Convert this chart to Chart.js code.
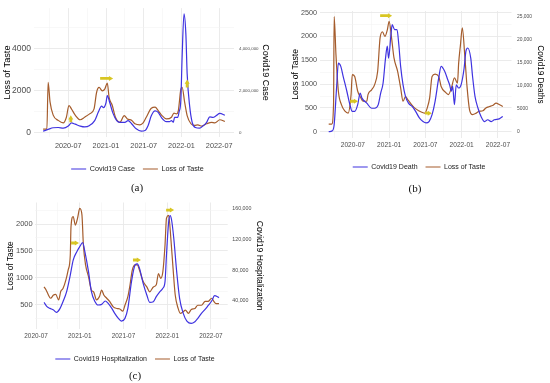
<!DOCTYPE html>
<html>
<head>
<meta charset="utf-8">
<script src="https://cdn.jsdelivr.net/npm/chart.js@4.4.1/dist/chart.umd.min.js"></script>
<style>
  body { margin: 0; width: 550px; height: 383px; background: #fff; position: relative; overflow: hidden; }
  .panel { position: absolute; }
  .tag { position: absolute; font-family: "Liberation Serif", "DejaVu Serif", serif; font-size: 11px; color: #111; transform: translate(-50%, -50%); }
</style>
</head>
<body>
<div class="panel" style="left:0;top:0;width:275px;height:183px"><canvas id="chartA"></canvas></div>
<div class="panel" style="left:275px;top:0;width:275px;height:181px"><canvas id="chartB"></canvas></div>
<div class="panel" style="left:0;top:190px;width:275px;height:183px"><canvas id="chartC"></canvas></div>
<div class="tag" style="left:137px;top:187px">(a)</div>
<div class="tag" style="left:415px;top:188px">(b)</div>
<div class="tag" style="left:135px;top:375px">(c)</div>

<script>
// x values are months since 2020-01 (6 = 2020-07)
const xTickMonths = [6, 12, 18, 24, 30];
const xTickLabels = ["2020-07", "2021-01", "2021-07", "2022-01", "2022-07"];
const xMinorMonths = [3, 9, 15, 21, 27];

// (a) cases vs loss of taste
const caseMonths = [2.0, 2.8, 3.6, 4.4, 5.2, 6.0, 6.5, 7.1, 7.9, 8.6, 9.4, 10.2, 10.8, 11.3, 11.6, 12.0, 12.2, 12.6, 13.1, 13.7, 14.2, 15.0, 15.5, 16.1, 16.8, 17.6, 18.2, 18.7, 19.2, 19.8, 20.3, 20.8, 21.6, 22.1, 22.4, 22.7, 22.9, 23.4, 23.6, 23.9, 24.1, 24.4, 24.7, 24.9, 25.3, 25.7, 26.2, 26.9, 27.4, 28.0, 28.5, 29.0, 29.5, 30.1, 30.9];
const caseCounts = [50000, 140000, 220000, 230000, 200000, 300000, 450000, 390000, 300000, 260000, 330000, 560000, 980000, 1250000, 1180000, 1410000, 1750000, 1410000, 915000, 560000, 480000, 480000, 560000, 400000, 170000, 60000, 90000, 330000, 790000, 1020000, 950000, 710000, 510000, 510000, 560000, 480000, 710000, 710000, 950000, 1570000, 3580000, 5650000, 4670000, 2800000, 1250000, 480000, 230000, 200000, 300000, 480000, 740000, 710000, 790000, 900000, 820000];
const tasteAMonths = [2.0, 2.6, 2.8, 3.1, 3.6, 4.4, 5.2, 5.7, 6.1, 6.5, 7.1, 7.9, 8.6, 9.4, 10.1, 10.5, 10.9, 11.4, 11.8, 12.2, 12.5, 13.0, 13.5, 14.2, 14.9, 15.4, 16.1, 16.6, 17.4, 17.9, 18.4, 19.2, 19.8, 20.3, 20.9, 21.6, 22.4, 22.8, 23.2, 23.5, 23.9, 24.1, 24.5, 24.9, 25.5, 26.1, 26.6, 27.2, 28.0, 28.8, 29.3, 30.1, 30.9];
const tasteAValues = [150, 150, 2380, 1450, 820, 570, 450, 720, 1280, 1120, 820, 600, 720, 880, 1120, 1900, 2140, 1980, 2060, 2350, 1650, 1280, 720, 480, 800, 640, 570, 410, 360, 450, 720, 1150, 1200, 1040, 800, 640, 720, 920, 880, 1040, 2060, 2150, 1440, 800, 410, 330, 360, 300, 410, 480, 450, 600, 520];
const aLeftTicks = [0, 2000, 4000];
const aLeftMinor = [1000, 3000, 5000];
const aRightTicks = [0, 2000000, 4000000];
const aRightLabels = ["0", "2,000,000", "4,000,000"];
const arrowAMonths = [6.4, 12.1, 24.9];
const arrowAValues = [650, 2570, 2330];

// (b) deaths vs loss of taste
const deathMonths = [2.0, 2.6, 2.9, 3.3, 3.6, 4.0, 4.4, 5.0, 5.5, 5.9, 6.3, 6.8, 7.2, 7.5, 8.3, 9.1, 9.6, 10.2, 10.6, 11.0, 11.4, 11.7, 11.9, 12.3, 12.5, 12.9, 13.3, 13.6, 13.9, 14.3, 14.7, 15.2, 15.8, 16.3, 17.0, 17.6, 18.1, 18.6, 19.1, 19.6, 20.2, 20.6, 21.2, 21.7, 22.0, 22.3, 22.5, 22.8, 23.1, 23.5, 23.9, 24.4, 24.7, 25.0, 25.5, 25.8, 26.2, 26.7, 27.2, 27.8, 28.3, 28.9, 29.4, 30.2, 30.8];
const deathCounts = [0, 200, 1500, 9500, 14900, 14200, 12000, 8800, 5900, 4400, 4400, 5900, 8400, 7300, 6200, 5100, 5100, 5900, 8400, 10600, 16000, 18600, 16000, 21100, 23300, 22200, 22200, 18900, 14200, 10200, 7700, 6200, 5500, 4600, 3000, 2200, 1900, 2200, 3700, 6600, 11700, 14200, 13100, 11300, 10200, 8800, 9900, 5900, 10200, 9500, 10200, 13800, 17500, 18200, 16000, 12000, 7700, 5100, 3300, 2200, 2600, 2200, 2600, 2800, 3300];
const tasteBMonths = [2.0, 2.5, 2.8, 2.9, 3.2, 3.6, 4.1, 4.7, 5.2, 5.7, 5.9, 6.3, 6.8, 7.2, 7.7, 8.3, 8.5, 9.1, 9.6, 10.1, 10.5, 10.9, 11.3, 11.7, 12.0, 12.4, 12.8, 13.4, 13.9, 14.3, 14.7, 15.1, 15.7, 16.2, 16.9, 17.4, 17.9, 18.3, 18.7, 19.1, 19.6, 20.2, 20.6, 21.3, 21.8, 22.3, 22.8, 23.3, 23.5, 23.8, 24.1, 24.5, 24.9, 25.3, 25.8, 26.4, 26.9, 27.5, 28.0, 28.6, 29.1, 29.7, 30.2, 30.8];
const tasteBValues = [160, 160, 570, 2420, 1620, 850, 570, 430, 390, 780, 1200, 1160, 850, 740, 640, 640, 780, 880, 990, 1270, 1970, 2100, 2000, 2140, 2320, 1970, 1550, 1270, 920, 640, 740, 670, 570, 500, 440, 410, 390, 500, 710, 1160, 1210, 1160, 950, 830, 780, 920, 1130, 1020, 1440, 1830, 2180, 1620, 920, 460, 360, 390, 430, 440, 500, 530, 550, 600, 570, 530];
const bLeftTicks = [0, 500, 1000, 1500, 2000, 2500];
const bLeftMinor = [250, 750, 1250, 1750, 2250];
const bRightTicks = [0, 5000, 10000, 15000, 20000, 25000];
const bRightLabels = ["0", "5000", "10,000", "15,000", "20,000", "25,000"];
const arrowBMonths = [6.2, 11.5, 18.5];
const arrowBValues = [640, 2437, 390];

// (c) hospitalization vs loss of taste
const hospMonths = [7.1, 7.5, 7.9, 8.4, 8.8, 9.3, 9.7, 10.2, 10.7, 11.1, 11.6, 12.0, 12.4, 12.7, 13.2, 13.6, 14.1, 14.5, 15.0, 15.5, 15.9, 16.4, 16.8, 17.3, 17.7, 18.2, 18.6, 19.1, 19.6, 19.9, 20.2, 20.7, 21.2, 21.6, 22.1, 22.5, 23.0, 23.4, 23.7, 23.9, 24.2, 24.4, 24.6, 24.9, 25.3, 25.7, 26.2, 26.7, 27.3, 27.8, 28.2, 28.7, 29.2, 29.6, 30.1, 30.5, 30.9, 31.1];
const hospCounts = [38000, 32400, 30200, 28000, 25000, 30200, 38900, 52000, 73600, 93100, 104000, 110600, 115700, 104000, 78000, 52000, 38900, 34600, 35400, 39800, 36700, 30200, 23700, 17200, 13700, 17200, 30200, 65000, 86700, 88000, 82300, 62800, 47600, 38000, 38900, 45400, 52000, 56300, 65000, 99700, 143000, 150900, 145200, 121400, 78000, 43300, 23700, 13700, 10700, 12900, 17200, 23700, 28900, 33700, 39800, 46700, 45400, 44100];
const tasteCMonths = [7.1, 7.4, 7.7, 8.0, 8.4, 8.7, 9.1, 9.4, 9.7, 10.1, 10.4, 10.7, 10.8, 11.1, 11.4, 11.7, 12.0, 12.3, 12.5, 12.8, 13.2, 13.6, 13.9, 14.3, 14.7, 15.0, 15.3, 15.7, 16.1, 16.6, 17.1, 17.5, 17.9, 18.2, 18.6, 18.9, 19.2, 19.6, 19.9, 20.2, 20.7, 21.2, 21.6, 22.1, 22.5, 22.8, 23.1, 23.4, 23.7, 23.9, 24.2, 24.5, 24.8, 25.1, 25.5, 25.8, 26.2, 26.5, 26.9, 27.3, 27.8, 28.2, 28.7, 29.2, 29.6, 30.1, 30.4, 30.7, 31.1];
const tasteCValues = [830, 770, 680, 620, 680, 690, 590, 750, 800, 960, 1140, 1420, 1950, 2140, 1980, 2110, 2290, 2170, 1610, 1240, 1020, 770, 740, 590, 650, 770, 680, 620, 560, 460, 430, 420, 380, 490, 650, 870, 1140, 1240, 1240, 1140, 930, 830, 740, 830, 870, 1080, 990, 1110, 1610, 2110, 2160, 1730, 1180, 680, 430, 340, 370, 400, 340, 410, 430, 490, 490, 560, 560, 620, 560, 520, 520];
const cLeftTicks = [500, 1000, 1500, 2000];
const cLeftMinor = [250, 750, 1250, 1750, 2250];
const cRightTicks = [40000, 80000, 120000, 160000];
const cRightLabels = ["40,000", "80,000", "120,000", "160,000"];
const arrowCMonths = [11.35, 19.85, 24.4];
const arrowCValues = [1647, 1331, 2260];

const BLUE = "#3f33e0";
const BROWN = "#a55c2c";
const ARROW = "#d8c623";
const TICK = "#4d4d4d";

Chart.defaults.font.family = "'Liberation Sans', Arial, sans-serif";

function series(months, values) {
  return months.map((m, i) => ({ x: m, y: values[i] }));
}

function tickList(major, minor, lo, hi) {
  return major.concat(minor)
    .filter(v => v >= lo && v <= hi)
    .sort((p, q) => p - q)
    .map(v => ({ value: v }));
}

function gridStyle(major) {
  return {
    drawTicks: false,
    color: ctx => (ctx.tick && major.includes(ctx.tick.value)) ? "#e9e9e9" : "#f3f3f3",
    lineWidth: ctx => (ctx.tick && major.includes(ctx.tick.value)) ? 0.9 : 0.6
  };
}

function arrowPlugin(a) {
  return {
    id: "arrows",
    afterDatasetsDraw(chart) {
      const ctx = chart.ctx;
      const xs = chart.scales.x, ys = chart.scales.y;
      ctx.save();
      ctx.fillStyle = ARROW;
      a.months.forEach((m, i) => {
        const cx = xs.getPixelForValue(m);
        const cy = ys.getPixelForValue(a.values[i]);
        const L = a.lengths[i], H = 5, t = 2.8, head = 4.2;
        ctx.save();
        ctx.translate(cx, cy);
        if (a.dirs[i] === "up") ctx.rotate(-Math.PI / 2);
        ctx.beginPath();
        ctx.moveTo(-L / 2, -t / 2);
        ctx.lineTo(L / 2 - head, -t / 2);
        ctx.lineTo(L / 2 - head, -H / 2);
        ctx.lineTo(L / 2, 0);
        ctx.lineTo(L / 2 - head, H / 2);
        ctx.lineTo(L / 2 - head, t / 2);
        ctx.lineTo(-L / 2, t / 2);
        ctx.closePath();
        ctx.fill();
        ctx.restore();
      });
      ctx.restore();
    }
  };
}

function buildPanel(p) {
  new Chart(document.getElementById(p.id), {
    type: "line",
    data: {
      datasets: [{
        label: p.blueLabel,
        data: series(p.blueMonths, p.blueValues),
        yAxisID: "y2",
        borderColor: BLUE,
        backgroundColor: BLUE,
        borderWidth: 1.2,
        pointRadius: 0,
        cubicInterpolationMode: "monotone"
      }, {
        label: "Loss of Taste",
        data: series(p.tasteMonths, p.tasteValues),
        yAxisID: "y",
        borderColor: BROWN,
        backgroundColor: BROWN,
        borderWidth: 1.2,
        pointRadius: 0,
        cubicInterpolationMode: "monotone"
      }]
    },
    options: {
      responsive: true,
      maintainAspectRatio: false,
      animation: false,
      layout: { padding: p.pad },
      plugins: {
        legend: {
          position: "bottom",
          labels: {
            usePointStyle: true,
            pointStyle: "line",
            pointStyleWidth: 15,
            padding: 8,
            color: "#1a1a1a",
            font: { size: p.legendSize }
          }
        },
        tooltip: { enabled: false }
      },
      scales: {
        x: {
          type: "linear",
          min: p.xRange[0],
          max: p.xRange[1],
          afterBuildTicks: s => { s.ticks = tickList(xTickMonths, xMinorMonths, p.xRange[0], p.xRange[1]); },
          afterFit: s => { s.height = p.xHeight; },
          ticks: {
            autoSkip: false,
            maxRotation: 0,
            padding: p.xTick[1],
            color: TICK,
            font: { size: p.xTick[0] },
            callback: v => {
              const i = xTickMonths.indexOf(v);
              return i < 0 ? "" : xTickLabels[i];
            }
          },
          grid: gridStyle(xTickMonths),
          border: { display: false }
        },
        y: {
          position: "left",
          min: p.yRange[0],
          max: p.yRange[1],
          afterBuildTicks: s => { s.ticks = tickList(p.leftTicks, p.leftMinor, p.yRange[0], p.yRange[1]); },
          afterFit: s => { s.width = p.yWidth; },
          ticks: {
            padding: p.yTick[1],
            color: TICK,
            font: { size: p.yTick[0] },
            callback: v => p.leftTicks.includes(v) ? String(v) : ""
          },
          title: {
            display: true,
            text: "Loss of Taste",
            color: "#000",
            font: { size: p.yTitle[0] },
            padding: { top: p.yTitle[1], bottom: 0 }
          },
          grid: gridStyle(p.leftTicks),
          border: { display: false }
        },
        y2: {
          position: "right",
          min: p.yRange[0] * p.ratio,
          max: p.yRange[1] * p.ratio,
          afterBuildTicks: s => { s.ticks = p.rightTicks.map(v => ({ value: v })); },
          afterFit: s => { s.width = p.y2Width; },
          ticks: {
            padding: p.y2Tick[1],
            color: TICK,
            font: { size: p.y2Tick[0] },
            callback: v => p.rightLabels[p.rightTicks.indexOf(v)]
          },
          title: {
            display: true,
            text: p.rightTitle,
            color: "#000",
            font: { size: p.y2Title[0] },
            padding: { top: p.y2Title[1], bottom: 0 }
          },
          grid: { display: false, drawTicks: false },
          border: { display: false }
        }
      }
    },
    plugins: [arrowPlugin(p.arrows)]
  });
}

buildPanel({
  id: "chartA",
  blueLabel: "Covid19 Case", rightTitle: "Covid19 Case",
  blueMonths: caseMonths, blueValues: caseCounts,
  tasteMonths: tasteAMonths, tasteValues: tasteAValues,
  leftTicks: aLeftTicks, leftMinor: aLeftMinor,
  rightTicks: aRightTicks, rightLabels: aRightLabels,
  arrows: { months: arrowAMonths, values: arrowAValues, dirs: ["up", "right", "up"], lengths: [7, 13, 8] },
  xRange: [0.55, 32.35], yRange: [-222, 5924], ratio: 1000,
  pad: { left: 0, right: 0, top: 7, bottom: 0.4 },
  yWidth: 34, y2Width: 41, xHeight: 20.4,
  yTitle: [9.2, 1.5], yTick: [8.5, 3], y2Title: [9, 4.1], y2Tick: [4.4, 5], xTick: [7.3, 4.6],
  legendSize: 7.2
});

buildPanel({
  id: "chartB",
  blueLabel: "Covid19 Death", rightTitle: "Covid19 Deaths",
  blueMonths: deathMonths, blueValues: deathCounts,
  tasteMonths: tasteBMonths, tasteValues: tasteBValues,
  leftTicks: bLeftTicks, leftMinor: bLeftMinor,
  rightTicks: bRightTicks, rightLabels: bRightLabels,
  arrows: { months: arrowBMonths, values: arrowBValues, dirs: ["right", "right", "right"], lengths: [8, 12, 7] },
  xRange: [0.56, 32.24], yRange: [-128, 2536], ratio: 10.35,
  pad: { left: 13, right: 0, top: 11, bottom: 0.5 },
  yWidth: 32, y2Width: 38.5, xHeight: 17.7,
  yTitle: [8.6, 2.3], yTick: [7.2, 3], y2Title: [8.2, 5.1], y2Tick: [4.9, 5.5], xTick: [6.6, 3.9],
  legendSize: 7
});

buildPanel({
  id: "chartC",
  blueLabel: "Covid19 Hospitalization", rightTitle: "Covid19 Hospitalization",
  blueMonths: hospMonths, blueValues: hospCounts,
  tasteMonths: tasteCMonths, tasteValues: tasteCValues,
  leftTicks: cLeftTicks, leftMinor: cLeftMinor,
  rightTicks: cRightTicks, rightLabels: cRightLabels,
  arrows: { months: arrowCMonths, values: arrowCValues, dirs: ["right", "right", "right"], lengths: [8, 8, 8] },
  xRange: [5.9, 32.3], yRange: [48, 2400], ratio: 70,
  pad: { left: 0, right: 5, top: 12.5, bottom: 0.5 },
  yWidth: 35.3, y2Width: 42.3, xHeight: 18.5,
  yTitle: [8.3, 5.5], yTick: [7.5, 2.6], y2Title: [8.6, 5.8], y2Tick: [5.3, 4.6], xTick: [6.4, 2.9],
  legendSize: 7
});
</script>
</body>
</html>
